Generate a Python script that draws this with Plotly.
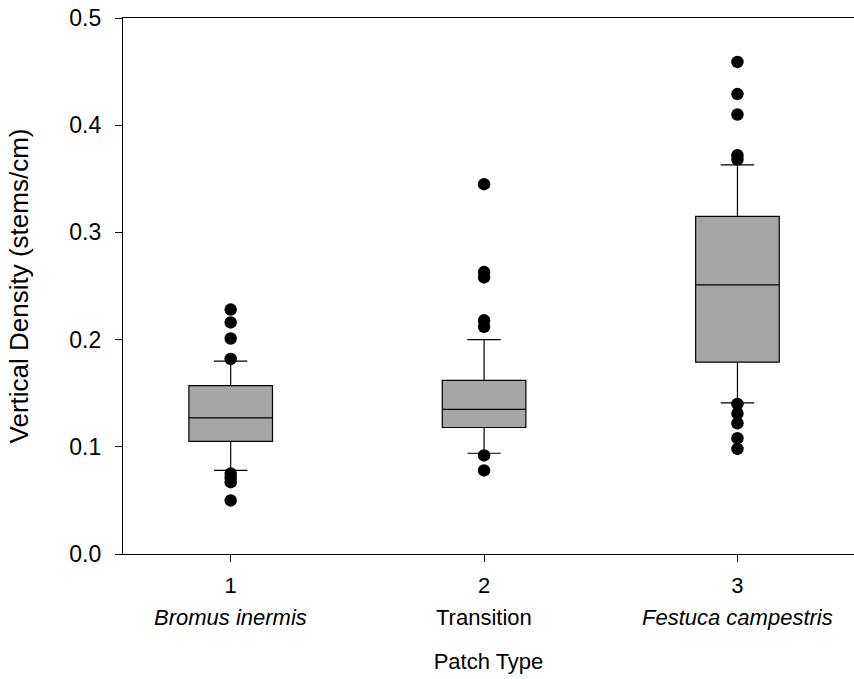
import plotly.graph_objects as go

# ---- data ----
positions = [1, 2, 3]
tick_numbers = ["1", "2", "3"]
patch_names = ["<i>Bromus inermis</i>", "Transition", "<i>Festuca campestris</i>"]

q1 = [0.105, 0.118, 0.179]
median = [0.127, 0.135, 0.251]
q3 = [0.157, 0.162, 0.315]
lower_whisker = [0.078, 0.094, 0.141]
upper_whisker = [0.180, 0.200, 0.363]

outliers = [
    [0.228, 0.216, 0.201, 0.182, 0.075, 0.071, 0.067, 0.050],
    [0.345, 0.263, 0.258, 0.218, 0.212, 0.092, 0.078],
    [0.459, 0.429, 0.410, 0.372, 0.368, 0.140, 0.131, 0.122, 0.108, 0.098],
]

y_ticks = [0.0, 0.1, 0.2, 0.3, 0.4, 0.5]

FONT = "Arial, Liberation Sans, sans-serif"

fig = go.Figure()
for i, x in enumerate(positions):
    fig.add_trace(go.Box(
        x=[x], q1=[q1[i]], median=[median[i]], q3=[q3[i]],
        lowerfence=[lower_whisker[i]], upperfence=[upper_whisker[i]],
        width=0.33, whiskerwidth=0.4,
        fillcolor="#a6a6a6",
        line=dict(color="black", width=1.2),
        boxpoints=False, showlegend=False, hoverinfo="skip",
    ))
    fig.add_trace(go.Scatter(
        x=[x] * len(outliers[i]), y=outliers[i], mode="markers",
        marker=dict(color="black", size=12.5, line=dict(width=0)),
        showlegend=False, hoverinfo="skip",
    ))

for x, name in zip(positions, patch_names):
    fig.add_annotation(
        x=x, y=-0.119, xref="x", yref="paper", text=name, showarrow=False,
        yanchor="middle", font=dict(family=FONT, size=22, color="black"),
    )

fig.update_layout(
    width=854, height=679,
    margin=dict(l=123, r=0, t=18, b=125),
    paper_bgcolor="white", plot_bgcolor="white",
    font=dict(family=FONT, size=22, color="black"),
    xaxis=dict(
        range=[0.575, 3.46], tickmode="array", tickvals=positions, ticktext=tick_numbers,
        ticks="outside", ticklen=7, tickwidth=1.2, tickcolor="black",
        showline=True, linecolor="black", linewidth=1.2, mirror=True,
        showgrid=False, zeroline=False, ticklabelstandoff=4,
        title=dict(text="Patch Type", standoff=57, font=dict(size=22)),
    ),
    yaxis=dict(
        range=[0, 0.5], tickmode="array", tickvals=y_ticks, tickformat=".1f",
        ticks="outside", ticklen=7, tickwidth=1.2, tickcolor="black",
        showline=True, linecolor="black", linewidth=1.2,
        showgrid=False, zeroline=False, ticklabelstandoff=9,
        tickfont=dict(size=23),
        title=dict(text="Vertical Density (stems/cm)", standoff=33, font=dict(size=26)),
    ),
)

fig.write_html("out.html")
